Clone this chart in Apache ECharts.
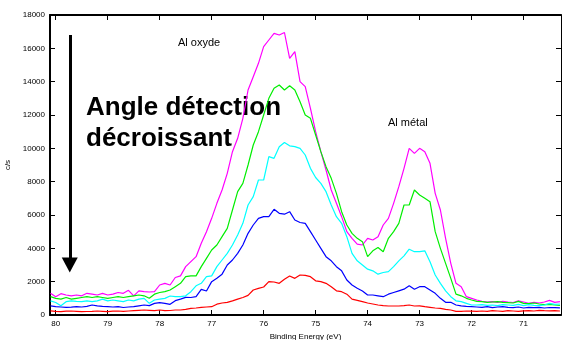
<!DOCTYPE html>
<html>
<head>
<meta charset="utf-8">
<script src="https://cdn.jsdelivr.net/npm/echarts@6/dist/echarts.min.js"></script>
<style>
html,body{margin:0;padding:0;background:#fff;}
#chart{width:562px;height:340px;}
</style>
</head>
<body>
<div id="chart"></div>
<script>
// Binding energies (eV)
var energies = [
  80.1,80.0,79.9,79.8,79.7,79.6,79.5,79.4,79.3,79.2,
  79.1,79.0,78.9,78.8,78.7,78.6,78.5,78.4,78.3,78.2,
  78.1,78.0,77.9,77.8,77.7,77.6,77.5,77.4,77.3,77.2,
  77.1,77.0,76.9,76.8,76.7,76.6,76.5,76.4,76.3,76.2,
  76.1,76.0,75.9,75.8,75.7,75.6,75.5,75.4,75.3,75.2,
  75.1,75.0,74.9,74.8,74.7,74.6,74.5,74.4,74.3,74.2,
  74.1,74.0,73.9,73.8,73.7,73.6,73.5,73.4,73.3,73.2,
  73.1,73.0,72.9,72.8,72.7,72.6,72.5,72.4,72.3,72.2,
  72.1,72.0,71.9,71.8,71.7,71.6,71.5,71.4,71.3,71.2,
  71.1,71.0,70.9,70.8,70.7,70.6,70.5,70.4,70.3
];
var magenta = [
  1300,1100,1280,1200,1150,1200,1150,1300,1250,1200,
  1300,1200,1250,1350,1300,1480,1150,1450,1400,1380,
  1400,1800,1900,1800,2250,2350,2900,3200,3500,4300,
  5000,5800,6700,7500,8500,9800,10600,11800,13500,14300,
  15100,16100,16500,16900,16800,16950,15400,15800,14000,13700,
  12400,11000,9800,8700,7500,6700,5900,5000,4600,4250,
  4200,4600,4500,4700,5400,5800,6700,7700,8800,10000,
  9700,10000,9800,9100,7300,6300,4600,3100,1900,1700,
  1100,1000,900,820,780,800,760,820,780,750,
  850,780,700,760,720,780,880,760,800
];
var green = [
  1100,1000,950,1050,950,1000,1050,1100,1050,1100,
  1050,1000,1050,1100,1050,1100,1150,1200,1150,1000,
  1250,1350,1400,1500,1700,1900,2300,2350,2350,2900,
  3400,3900,4200,4700,5200,6300,7400,7900,9000,10200,
  11000,12000,13000,13600,13800,13500,13750,13500,12800,12000,
  11800,10800,9800,8900,8200,7300,6200,5400,4900,4600,
  4400,3500,3850,4050,3800,4600,5000,5500,6600,6600,
  7500,7200,7000,6800,5000,4000,3100,2200,1250,1150,
  1000,900,820,800,760,780,800,760,740,720,
  820,700,680,720,660,620,640,600,580
];
var cyan = [
  850,750,550,800,850,820,800,850,800,850,
  950,850,900,850,800,900,850,950,1000,700,
  900,950,1000,1140,1100,1100,1150,1400,1750,1900,
  2300,2350,2900,3300,3700,4200,4800,5500,6600,7100,
  8100,8100,9500,9400,10100,10350,10150,10100,10000,9600,
  8800,8250,7900,7400,6600,5900,5500,4700,3700,3250,
  3000,2750,2650,2450,2550,2600,2900,3250,3550,3950,
  3800,3800,3850,3200,2400,1900,1450,1100,850,800,
  700,600,600,620,580,600,560,620,600,580,
  640,560,620,580,560,600,700,640,660
];
var blue = [
  550,500,480,460,470,500,480,520,600,550,
  520,500,480,500,450,480,500,550,600,560,
  700,740,700,640,860,950,1060,1050,1100,1540,
  1440,2000,2200,2450,3000,3300,3700,4200,4900,5400,
  5800,5900,5900,6340,6100,6050,6200,5700,5550,5500,
  5000,4500,4000,3500,3250,2900,2650,2100,1800,1600,
  1440,1200,1200,1150,1100,1250,1350,1450,1550,1760,
  1550,1700,1700,1500,1300,1000,760,760,600,550,
  520,500,480,460,500,440,480,500,460,440,
  480,420,460,440,460,420,450,440,430
];
var red = [
  250,220,200,230,240,220,200,210,220,240,
  220,200,230,240,220,240,260,280,300,280,
  260,300,260,270,300,300,340,400,420,460,
  480,500,650,720,760,850,950,1050,1180,1500,
  1600,1680,2000,1980,1900,2140,2340,2200,2400,2380,
  2300,2050,2000,1900,1700,1450,1400,1250,950,880,
  800,720,660,600,560,540,540,540,560,600,
  540,550,500,460,420,400,340,300,220,220,
  240,230,220,240,220,260,240,220,260,240,
  220,250,260,240,280,260,250,260,240
];
var seriesNames = ['s1','s2','s3','s4','s5'];
var seriesColors = ['#ff00ff','#00ee00','#00ffff','#0000ff','#ff0000'];
var yTicks = [0,2000,4000,6000,8000,10000,12000,14000,16000,18000];
var xRange = [70.28, 80.11];
var arrowFrom = [79.73, 16800];
var arrowTo = [79.73, 3000];

var FONT = '"Liberation Sans", Arial, sans-serif';
var allData = [magenta, green, cyan, blue, red];
function pairs(vals){ return energies.map(function(e,i){ return [e, vals[i]]; }); }

var chart = echarts.init(document.getElementById('chart'), null, {renderer:'canvas'});
var axisCommon = {
  type:'value', min:xRange[0], max:xRange[1], inverse:true,
  splitNumber:10, minInterval:1, maxInterval:1,
  splitLine:{show:false},
  axisLine:{show:true, onZero:false, lineStyle:{color:'#000', width:2}},
  axisTick:{show:true, inside:true, length:5, lineStyle:{color:'#000', width:1}}
};
var series = allData.map(function(d,i){
  return {
    name: seriesNames[i], type:'line', data: pairs(d), showSymbol:false,
    lineStyle:{color:seriesColors[i], width:1.2}, itemStyle:{color:seriesColors[i]},
    animation:false, silent:true, z: 2
  };
});
series[0].markLine = {
  silent:true, animation:false,
  symbol:['none','triangle'], symbolSize:[16,15],
  label:{show:false},
  lineStyle:{color:'#000', width:3, type:'solid'},
  itemStyle:{color:'#000'},
  data:[[{coord:arrowFrom},{coord:arrowTo}]]
};
chart.setOption({
  animation:false,
  textStyle:{fontFamily:FONT},
  grid:{left:50, right:1, top:15, bottom:25, containLabel:false, outerBoundsMode:'none'},
  xAxis:[
    Object.assign({}, axisCommon, {
      position:'bottom',
      name:'Binding Energy (eV)', nameLocation:'middle', nameGap:16,
      nameTextStyle:{fontSize:8, color:'#000', fontFamily:FONT},
      axisLabel:{fontSize:8, color:'#000', margin:5, fontFamily:FONT,
        showMinLabel:false, showMaxLabel:false,
        formatter:function(v){ return Math.abs(v-Math.round(v))<1e-6 ? String(Math.round(v)) : ''; }}
    }),
    Object.assign({}, axisCommon, {position:'top', axisLabel:{show:false}})
  ],
  yAxis:[
    {type:'value', min:yTicks[0], max:yTicks[yTicks.length-1], interval:2000, position:'left',
     splitLine:{show:false},
     axisLine:{show:true, lineStyle:{color:'#000', width:2}},
     axisTick:{show:true, inside:true, length:5, lineStyle:{color:'#000'}},
     axisLabel:{fontSize:8, color:'#000', margin:5, fontFamily:FONT,
       formatter:function(v){ return String(v); }},
     name:'c/s', nameLocation:'middle', nameGap:34,
     nameTextStyle:{fontSize:8, color:'#000', fontFamily:FONT}},
    {type:'value', min:yTicks[0], max:yTicks[yTicks.length-1], interval:2000, position:'right',
     splitLine:{show:false},
     axisLine:{show:true, lineStyle:{color:'#000', width:1}},
     axisTick:{show:true, inside:true, length:5, lineStyle:{color:'#000'}},
     axisLabel:{show:false}}
  ],
  series: series,
  graphic:[
    {type:'text', left:178, top:37, style:{text:'Al oxyde', font:'11px '+FONT, fill:'#000'}},
    {type:'text', left:388, top:117, style:{text:'Al métal', font:'11px '+FONT, fill:'#000'}},
    {type:'text', left:86, top:95, style:{text:'Angle détection', font:'bold 26px '+FONT, fill:'#000'}},
    {type:'text', left:86, top:126, style:{text:'décroissant', font:'bold 26px '+FONT, fill:'#000'}}
  ]
});
</script>
</body>
</html>
